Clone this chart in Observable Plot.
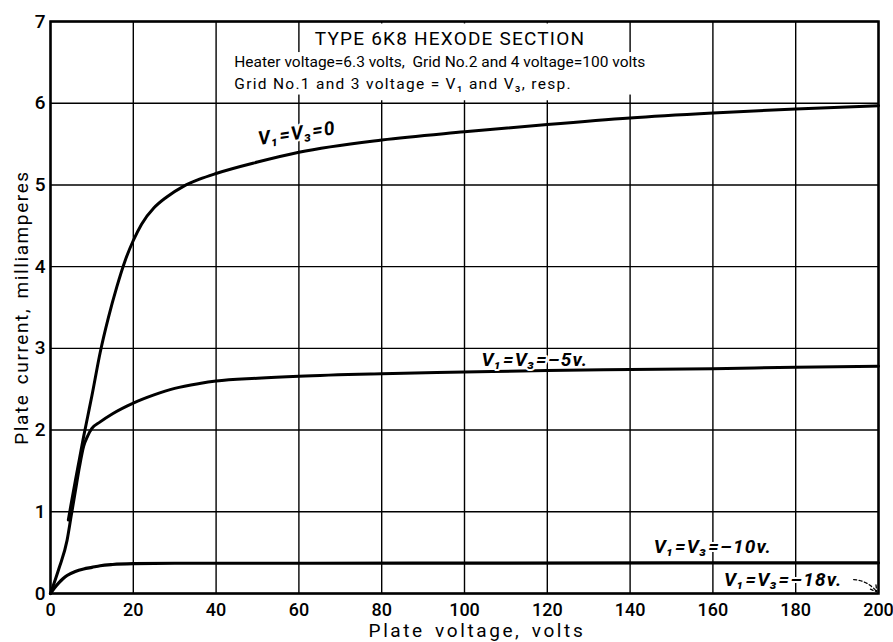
<!DOCTYPE html>
<html>
<head>
<meta charset="utf-8">
<script src="https://cdn.jsdelivr.net/npm/d3@7"></script>
<script src="https://cdn.jsdelivr.net/npm/@observablehq/plot@0.6"></script>
<style>
  html, body { margin: 0; padding: 0; background: #fff; }
  svg { display: block; }
</style>
</head>
<body>
<div id="chart"></div>
<script>
// ---- data ----
const xTicks = [0, 20, 40, 60, 80, 100, 120, 140, 160, 180, 200];
const yTicks = [0, 1, 2, 3, 4, 5, 6, 7];

// V1 = V3 = 0
const v0X = [4.3, 5, 6, 7, 8, 9, 10, 12, 14, 16, 18, 20, 22, 25, 28, 32, 36, 40, 50, 60, 80, 100, 120, 140, 160, 180, 200];
const v0Y = [0.9, 1.1, 1.38, 1.65, 1.92, 2.17, 2.42, 2.95, 3.38, 3.75, 4.07, 4.32, 4.52, 4.72, 4.85, 4.98, 5.07, 5.14, 5.28, 5.4, 5.55, 5.65, 5.74, 5.82, 5.88, 5.93, 5.97];
// V1 = V3 = -5 v
const v5X = [0, 2, 4, 5, 6, 7, 8, 9, 10, 12, 15, 20, 25, 30, 36, 40, 50, 60, 80, 100, 120, 140, 160, 180, 200];
const v5Y = [0, 0.3, 0.65, 0.95, 1.25, 1.55, 1.8, 1.93, 2.02, 2.1, 2.2, 2.33, 2.43, 2.51, 2.57, 2.6, 2.635, 2.66, 2.69, 2.71, 2.73, 2.74, 2.75, 2.77, 2.78];
// V1 = V3 = -10 v
const v10X = [0, 1, 2, 3, 4, 6, 8, 10, 12, 15, 20, 30, 60, 100, 150, 200];
const v10Y = [0, 0.07, 0.13, 0.18, 0.22, 0.27, 0.30, 0.32, 0.34, 0.355, 0.365, 0.37, 0.37, 0.372, 0.374, 0.375];

const curveLabels = ["V\u2081=V\u2083=0", "V\u2081=V\u2083=\u20135v.", "V\u2081=V\u2083=\u201310v.", "V\u2081=V\u2083=\u201318v."];
const titleHead = "TYPE 6K8 HEXODE SECTION";
const titleLine2 = "Heater voltage=6.3 volts,  Grid No.2 and 4 voltage=100 volts";
const titleLine3 = "Grid No.1 and 3 voltage = V\u2081 and V\u2083, resp.";
const xLabel = "Plate voltage, volts";
const yLabel = "Plate current, milliamperes";

// ---- build tables ----
const toRows = (xs, ys) => xs.map((x, i) => ({x, y: ys[i]}));
const c0 = toRows(v0X, v0Y);
const c5 = toRows(v5X, v5Y);
const c10 = toRows(v10X, v10Y);

const labelPlace = [
  {x: 59.5, y: 5.63, r: -8},
  {x: 117, y: 2.86, r: 0},
  {x: 160, y: 0.57, r: 0},
  {x: 177, y: 0.17, r: 0}
].map((p, i) => ({...p, t: curveLabels[i]}));

const font = "Roboto, 'Liberation Sans', sans-serif";
const halo = {fill: "#000", stroke: "#fff", strokeWidth: 5, paintOrder: "stroke"};

const chart = Plot.plot({
  width: 893,
  height: 642,
  marginLeft: 50,
  marginRight: 15,
  marginTop: 21,
  marginBottom: 49,
  style: {fontFamily: font, background: "#fff", color: "#000"},
  x: {domain: [0, 200], ticks: xTicks, tickSize: 0, label: null},
  y: {domain: [0, 7], ticks: yTicks, tickSize: 0, label: null},
  marks: [
    Plot.gridX(xTicks, {stroke: "#000", strokeOpacity: 1, strokeWidth: 1.4}),
    Plot.gridY(yTicks, {stroke: "#000", strokeOpacity: 1, strokeWidth: 1.4}),
    // blank panel behind the title block
    Plot.rect([0], {x1: 61, x2: 139, y1: 6.03, y2: 6.97, fill: "#fff"}),
    Plot.rect([0], {x1: 43.5, x2: 146, y1: 6.1, y2: 6.62, fill: "#fff"}),
    Plot.text([titleHead], {x: 96.5, y: 6.79, text: d => d, textAnchor: "middle", fontSize: 19, ...halo}),
    Plot.text([titleLine2], {x: 44.4, y: 6.51, text: d => d, textAnchor: "start", fontSize: 15.5, ...halo}),
    Plot.text([titleLine3], {x: 44.4, y: 6.24, text: d => d, textAnchor: "start", fontSize: 15.5, ...halo}),
    Plot.line(c10, {x: "x", y: "y", curve: "monotone-x", stroke: "#000", strokeWidth: 3.2}),
    Plot.line(c5, {x: "x", y: "y", curve: "monotone-x", stroke: "#000", strokeWidth: 3}),
    Plot.line(c0, {x: "x", y: "y", curve: "monotone-x", stroke: "#000", strokeWidth: 3}),
    Plot.frame({stroke: "#000", strokeWidth: 2.5}),
    Plot.text(labelPlace, {
      x: "x", y: "y", text: "t", rotate: "r",
      fontSize: 19, fontWeight: "bold", fontStyle: "italic",
      fill: "#000", stroke: "#fff", strokeWidth: 4, paintOrder: "stroke"
    }),
    Plot.arrow([0], {x1: 194, y1: 0.17, x2: 199.6, y2: 0.02, bend: 25, stroke: "#000", strokeWidth: 1.3, strokeDasharray: "3,2.5", headLength: 8}),
    Plot.axisX(xTicks, {tickSize: 0, tickPadding: 10, fontSize: 18, fontWeight: "500", label: null}),
    Plot.axisY(yTicks, {tickSize: 0, tickPadding: 5, fontSize: 19, fontWeight: "500", tickFormat: d3.format("d"), label: null}),
    Plot.text([xLabel], {x: 103, frameAnchor: "bottom", dy: 43, text: d => d, fontSize: 19}),
    Plot.text([yLabel], {frameAnchor: "left", textAnchor: "middle", dx: -29, rotate: -90, text: d => d, fontSize: 19})
  ]
});
document.getElementById("chart").appendChild(chart);

// letter spacing to mimic the hand lettering (applied after render)
const spacing = new Map([
  [titleHead, "1.2px"],
  [titleLine3, "1.3px"],
  [xLabel, "2.6px"],
  [yLabel, "1.6px"]
]);
curveLabels.forEach(t => spacing.set(t, "1.2px"));
d3.select(chart).selectAll("text").each(function () {
  const s = spacing.get(this.textContent);
  if (s) {
    this.setAttribute("letter-spacing", s);
    this.style.letterSpacing = s;
    if (this.textContent === xLabel || this.textContent === yLabel) this.style.wordSpacing = "3px";
  }
});
</script>
</body>
</html>
